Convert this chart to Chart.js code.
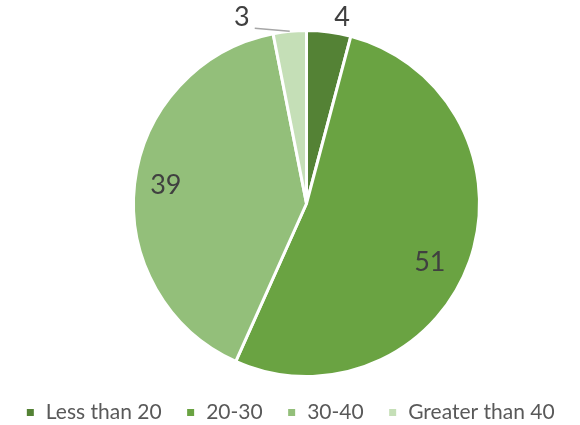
<!DOCTYPE html>
<html>
<head>
<meta charset="utf-8">
<script src="https://cdn.jsdelivr.net/npm/chart.js@4.4.1/dist/chart.umd.min.js"></script>
<style>
  html, body { margin: 0; padding: 0; background: #fff; }
  canvas { display: block; }
</style>
</head>
<body>
<canvas id="myChart" width="580" height="425"></canvas>
<script>
// data ------------------------------------
const categories = ["Less than 20", "20-30", "30-40", "Greater than 40"];
const counts = [4, 51, 39, 3];
const sliceColors = ["#548235", "#6aa342", "#93bf7a", "#c5dfb7"];

// label placement: fraction of radius, and extra angle nudge (deg)
const labelRadius = [1.095, 0.79, 0.82, 1.14];
const labelNudge = [3.4, 6, 1, -13.6];

// pie sits a bit right of the canvas centre, legend uses full width
const shiftPie = {
  id: "shiftPie",
  afterLayout(chart) {
    chart.chartArea.left += 33;
    chart.chartArea.width -= 33;
  }
};

// data labels ------------------------------------
const pieLabels = {
  id: "pieLabels",
  afterDatasetsDraw(chart) {
    const c = chart.ctx;
    const meta = chart.getDatasetMeta(0);
    c.save();
    c.font = "27px Lato, sans-serif";
    c.fillStyle = "#404040";
    c.textAlign = "center";
    c.textBaseline = "middle";
    meta.data.forEach(function (arc, i) {
      const p = arc.getProps(["x", "y", "startAngle", "endAngle", "outerRadius"], true);
      const mid = (p.startAngle + p.endAngle) / 2 + labelNudge[i] * Math.PI / 180;
      const r = p.outerRadius * labelRadius[i];
      const lx = p.x + Math.cos(mid) * r;
      const ly = p.y + Math.sin(mid) * r;
      c.fillText(String(counts[i]), lx, ly);
      if (i === 3) {
        // leader line
        const edgeAng = (p.startAngle + p.endAngle) / 2;
        const ex = p.x + Math.cos(edgeAng) * p.outerRadius;
        const ey = p.y + Math.sin(edgeAng) * p.outerRadius;
        c.strokeStyle = "#a6a6a6";
        c.lineWidth = 1.5;
        c.beginPath();
        c.moveTo(lx + 13, ly + 11);
        c.lineTo(ex, ey);
        c.stroke();
      }
    });
    c.restore();
  }
};

const ctx = document.getElementById("myChart");
const chart = new Chart(ctx, {
  type: "pie",
  data: {
    labels: categories,
    datasets: [
      {
        data: counts,
        backgroundColor: sliceColors,
        borderColor: "#ffffff",
        borderWidth: 3,
      },
    ],
  },
  options: {
    responsive: false,
    animation: false,
    layout: {
      padding: { top: 29, left: 0, right: 0, bottom: 0 },
    },
    plugins: {
      tooltip: { enabled: false },
      legend: {
        position: "bottom",
        maxHeight: 47,
        labels: {
          boxWidth: 10,
          boxHeight: 10,
          padding: 24,
          color: "#595959",
          font: { family: "Lato, sans-serif", size: 21 },
        },
      },
    },
  },
  plugins: [shiftPie, pieLabels],
});
</script>
</body>
</html>
